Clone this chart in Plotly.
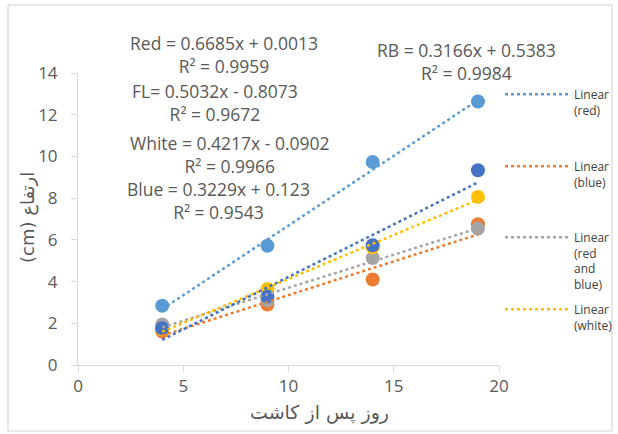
import plotly.graph_objects as go

# ---- data ----
days = [4, 9, 14, 19]
series_names = ["red", "blue", "red and blue", "white", "FL"]
red_vals = [2.84, 5.72, 9.73, 12.63]
blue_vals = [1.60, 2.90, 4.10, 6.75]
rb_vals = [1.94, 3.10, 5.13, 6.54]
white_vals = [1.70, 3.64, 5.64, 8.06]
fl_vals = [1.76, 3.28, 5.74, 9.34]

eq_labels = ["Red = ", "Blue = ", "RB = ", "White = ", "FL= "]
slopes = [0.6685, 0.3229, 0.3166, 0.4217, 0.5032]
intercepts = [0.0013, 0.123, 0.5383, -0.0902, -0.8073]
r2_vals = [0.9959, 0.9543, 0.9984, 0.9966, 0.9672]

x_ticks = [0, 5, 10, 15, 20]
y_ticks = [0, 2, 4, 6, 8, 10, 12, 14]

# ---- style ----
W, H = 618, 434
L, R, T, B = 78, 119, 73, 69
colors = ["#5B9BD5", "#ED7D31", "#A5A5A5", "#FFC000", "#4472C4"]
text_col = "#595959"
font_lat = "Open Sans"

def px2paper(px, py):
    return (px - L) / (W - L - R), (H - B - py) / (H - T - B)

values = [red_vals, blue_vals, rb_vals, white_vals, fl_vals]

fig = go.Figure()

# markers
for name, vals, c in zip(series_names, values, colors):
    fig.add_trace(go.Scatter(x=days, y=vals, mode="markers", name=name,
                             marker=dict(size=14, color=c), showlegend=False))

# trendlines (drawn on top)
legend_ids = ["legend", "legend2", "legend3", "legend4", None]
for name, m, b, c, lg in zip(series_names, slopes, intercepts, colors, legend_ids):
    xs = [days[0], days[-1]]
    ys = [m * x + b for x in xs]
    label = "Linear<br>(" + name.replace(" and ", "<br>and<br>") + ")"
    tr = dict(x=xs, y=ys, mode="lines", name=label,
              line=dict(color=c, width=2.5, dash="dot"))
    if lg is None:
        tr["showlegend"] = False
    else:
        tr["legend"] = lg
    fig.add_trace(go.Scatter(**tr))

# equation annotations
ann_pos = [(224, 54.5), (218, 200.5), (466, 61), (230, 154), (215, 103)]
annotations = []
for lab, m, b, r2, (px, py) in zip(eq_labels, slopes, intercepts, r2_vals, ann_pos):
    sign = "+" if b >= 0 else "-"
    bs = ("%g" % abs(b))
    txt = f"{lab}{m:.4f}x {sign} {bs}<br>R² = {r2:.4f}"
    ax, ay = px2paper(px, py)
    annotations.append(dict(x=ax, y=ay, xref="paper", yref="paper", text=txt,
                            showarrow=False, align="center", xanchor="center", yanchor="middle",
                            font=dict(family=font_lat, size=17.5, color=text_col)))

# axis titles
tx, ty = px2paper(319, 412)
annotations.append(dict(x=tx, y=ty, xref="paper", yref="paper", text="روز پس از کاشت",
                        showarrow=False, xanchor="center", yanchor="middle",
                        font=dict(family="DejaVu Sans", size=19, color=text_col)))
yx, yy = px2paper(28, 218)
annotations.append(dict(x=yx, y=yy, xref="paper", yref="paper", text="(cm) ارتفاع",
                        showarrow=False, xanchor="center", yanchor="middle", textangle=-90,
                        font=dict(family="DejaVu Sans", size=18, color=text_col)))

# legends
leg_tops = [80, 152, 223, 295]
legend_layout = {}
for lg, top in zip(legend_ids[:4], leg_tops):
    lx, ly = px2paper(500, top)
    legend_layout[lg] = dict(x=lx, y=ly, xanchor="left", yanchor="top",
                             bgcolor="rgba(0,0,0,0)", itemwidth=64, valign="top",
                             font=dict(family=font_lat, size=12, color="#404040"))

bx0, by0 = px2paper(8, 5)
bx1, by1 = px2paper(612, 431)

fig.update_layout(
    width=W, height=H,
    margin=dict(l=L, r=R, t=T, b=B, autoexpand=False),
    paper_bgcolor="white", plot_bgcolor="white",
    annotations=annotations,
    shapes=[dict(type="rect", xref="paper", yref="paper", x0=bx0, y0=by1, x1=bx1, y1=by0,
                 line=dict(color="#CFCFCF", width=1), layer="below")],
    xaxis=dict(range=[0, 20], tickvals=x_ticks, showgrid=False, zeroline=False,
               showline=True, linecolor="#D9D9D9", linewidth=1, automargin=False,
               ticks="outside", ticklen=6, tickcolor="#D9D9D9",
               tickfont=dict(family=font_lat, size=17, color=text_col)),
    yaxis=dict(range=[0, 14], tickvals=y_ticks, showgrid=False, zeroline=False,
               showline=True, linecolor="#D9D9D9", linewidth=1, automargin=False,
               ticks="outside", ticklen=6, tickcolor="#D9D9D9", ticklabelstandoff=10,
               tickfont=dict(family=font_lat, size=17, color=text_col)),
    **legend_layout,
)

fig.write_html("out.html", config={"displayModeBar": False},
               post_script="document.body.style.margin='0';")
